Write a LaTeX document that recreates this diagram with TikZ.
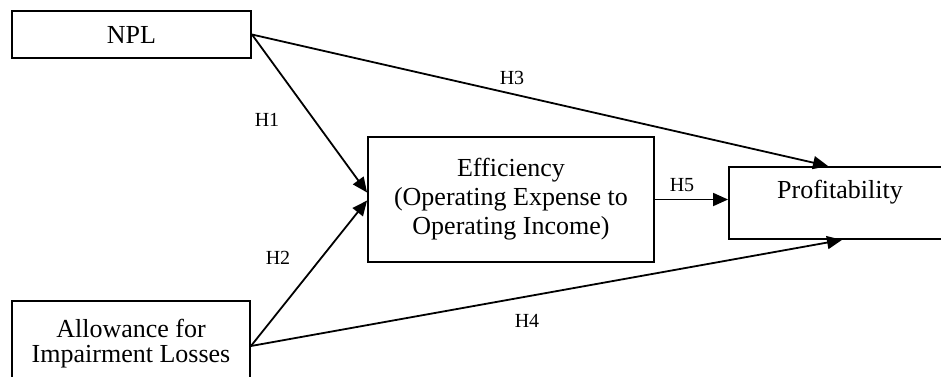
\documentclass[tikz,border=0pt]{standalone}
\usepackage{fontspec}
\setmainfont{Liberation Serif}
\usetikzlibrary{calc,arrows.meta}
\tikzset{
  varbox/.style={draw, line width=1.9pt, font=\fontsize{26}{29}\selectfont, align=center, inner sep=0pt},
  link/.style={line width=1.8pt, -{Triangle[length=15pt,width=13pt]}},
  hyp/.style={font=\fontsize{20}{22}\selectfont, inner sep=0pt}
}
\begin{document}
\begin{tikzpicture}[x=1pt,y=-1pt]
\useasboundingbox (0,0) rectangle (941,376);
\node[varbox, minimum width=239pt, minimum height=47pt] (npl) at (131.5,34.5) {NPL};
\node[varbox, minimum width=238pt, minimum height=90pt, font=\fontsize{26}{25}\selectfont, text depth=10pt] (allow) at (131,346) {Allowance for\\Impairment Losses};
\node[varbox, minimum width=286pt, minimum height=125pt] (eff) at (511,199.5) {Efficiency\\(Operating Expense to\\Operating Income)};
\node[varbox, minimum width=222pt, anchor=north, text height=24pt, text depth=32pt, inner ysep=8pt] (prof) at (840,166) {Profitability};
\draw[link] (npl.east) -- ([yshift=7pt]eff.west);
\draw[link] (allow.east) -- ([yshift=-1pt]eff.west);
\draw[link] (npl.east) -- ([xshift=-12pt]prof.north);
\draw[link] (allow.east) -- ([xshift=2pt]prof.south);
\draw[link] (eff.east) -- (eff.east -| prof.west);
\node[hyp] (hone) at (267,120) {H1};
\node[hyp] (htwo) at (278,258) {H2};
\node[hyp] (hthree) at (512,78) {H3};
\node[hyp] (hfour) at (527,321) {H4};
\node[hyp] (hfive) at (682,185) {H5};
\end{tikzpicture}
\end{document}
